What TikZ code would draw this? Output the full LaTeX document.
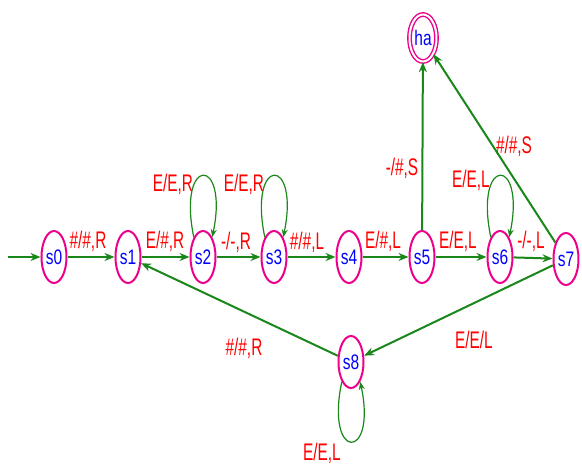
\documentclass[tikz,border=0pt]{standalone}
\usepackage{fontspec}
\setmainfont{Liberation Sans}
\newfontfamily\lblfont{Liberation Sans}[FakeStretch=0.64]
\newfontfamily\stfont{Liberation Sans}[FakeStretch=0.74]
\usetikzlibrary{shapes.geometric,arrows.meta}
\definecolor{eg}{RGB}{25,135,25}
\begin{document}
\begin{tikzpicture}[x=1pt,y=-1pt,
 state/.style={ellipse, draw=magenta, line width=2pt, fill=white, text=blue,
   minimum width=25pt, minimum height=52pt, inner sep=0pt,
   font=\stfont\fontsize{21}{23}\selectfont},
 accstate/.style={state, double=white, double distance=2pt, line width=1.4pt,
   minimum width=27pt, minimum height=47pt},
 edge/.style={draw=eg, line width=2pt, -{Stealth[length=10pt,width=8pt]}},
 loopedge/.style={draw=eg, line width=1.2pt, -{Stealth[length=8pt,width=6pt]}},
 lbl/.style={text=red, font=\lblfont\fontsize{24}{26}\selectfont, inner sep=0pt}]
\useasboundingbox (0,0) rectangle (582,466);

\node[state] (s0) at (54,257) {s0};
\node[state] (s1) at (128,257) {s1};
\node[state] (s2) at (203,257) {s2};
\node[state] (s3) at (274,257) {s3};
\node[state] (s4) at (349,257) {s4};
\node[state] (s5) at (422,257) {s5};
\node[state] (s6) at (500,257) {s6};
\node[state] (s7) at (566,259) {s7};
\node[state] (s8) at (351,362) {s8};
\node[accstate] (ha) at (423,38) {ha};

\coordinate (start) at (8,257);
\draw[edge] (start) -- (s0);
\draw[edge] (s0) -- (s1);
\draw[edge] (s1) -- (s2);
\draw[edge] (s2) -- (s3);
\draw[edge] (s3) -- (s4);
\draw[edge] (s4) -- (s5);
\draw[edge] (s5) -- (s6);
\draw[edge] (s6) -- (s7);
\draw[edge] (s5) -- (ha);
\draw[edge] (s7) -- (ha);
\draw[edge] (s7) -- (s8);
\draw[edge] (s8) -- (s1);

\draw[loopedge] (s2.115) .. controls +(-17,-82) and +(17,-82) .. (s2.65);
\draw[loopedge] (s3.115) .. controls +(-17,-82) and +(17,-82) .. (s3.65);
\draw[loopedge] (s6.115) .. controls +(-17,-82) and +(17,-82) .. (s6.65);
\draw[loopedge] (s8.245) .. controls +(-17,80) and +(17,80) .. (s8.295);

\node[lbl] (l01) at (88,241) {\#/\#,R};
\node[lbl] (l12) at (165,241) {E/\#,R};
\node[lbl] (l22) at (173,184) {E/E,R};
\node[lbl] (l23) at (236,242) {-/-,R};
\node[lbl] (l33) at (244,184) {E/E,R};
\node[lbl] (l34) at (307,242) {\#/\#,L};
\node[lbl] (l45) at (383,241) {E/\#,L};
\node[lbl] (l5h) at (402,168) {-/\#,S};
\node[lbl] (l56) at (458,241) {E/E,L};
\node[lbl] (l66) at (471,180) {E/E,L};
\node[lbl] (l67) at (531,241) {-/-,L};
\node[lbl] (l7h) at (514,146) {\#/\#,S};
\node[lbl] (l78) at (474,340) {E/E/L};
\node[lbl] (l81) at (244,348) {\#/\#,R};
\node[lbl] (l88) at (322,453) {E/E,L};
\end{tikzpicture}
\end{document}
